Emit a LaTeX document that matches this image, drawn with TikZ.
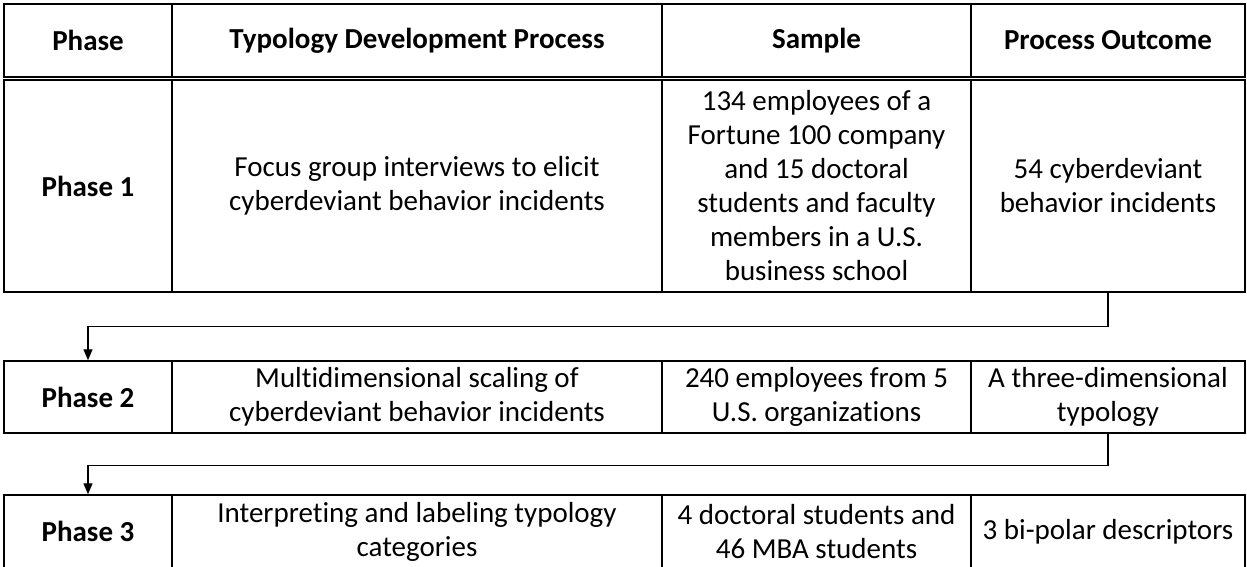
\documentclass[tikz,border=0pt]{standalone}
\usepackage{fontspec}
\setmainfont{Carlito}[Ligatures=NoCommon]
\usetikzlibrary{arrows.meta}

\begin{document}
\begin{tikzpicture}[x=1pt, y=-1pt,
    cell/.style={draw, line width=1.5pt, align=center, inner sep=0pt,
                 font=\fontsize{29}{34}\selectfont},
    head/.style={cell, font=\fontsize{29}{34}\selectfont\bfseries},
    colA/.style={minimum width=168pt},
    colB/.style={minimum width=490pt},
    colC/.style={minimum width=309pt},
    colD/.style={minimum width=274pt},
    flow/.style={line width=1.3pt, -{Triangle[length=11pt,width=9pt]}}]
  \useasboundingbox (0,0) rectangle (1247,566);

  % Header row
  \node[head, colA, minimum height=73pt] (hPhase) at (88,40.5) {Phase};
  \node[head, colB, minimum height=73pt] (hProc) at (417,40.5) {Typology Development Process};
  \node[head, colC, minimum height=73pt] (hSamp) at (816.5,40.5) {Sample};
  \node[head, colD, minimum height=73pt] (hOut) at (1108,40.5) {Process Outcome};

  % Phase 1
  \node[head, colA, minimum height=212pt] (phase1) at (88,186) {Phase 1};
  \node[cell, colB, minimum height=212pt] (proc1) at (417,186) {Focus group interviews to elicit\\cyberdeviant behavior incidents};
  \node[cell, colC, minimum height=212pt] (samp1) at (816.5,186) {134 employees of a\\Fortune 100 company\\and 15 doctoral\\students and faculty\\members in a U.S.\\business school};
  \node[cell, colD, minimum height=212pt] (out1) at (1108,186) {54 cyberdeviant\\behavior incidents};

  % Phase 2
  \node[head, colA, minimum height=72pt] (phase2) at (88,397) {Phase 2};
  \node[cell, colB, minimum height=72pt] (proc2) at (417,397) {Multidimensional scaling of\\cyberdeviant behavior incidents};
  \node[cell, colC, minimum height=72pt] (samp2) at (816.5,397) {240 employees from 5\\U.S. organizations};
  \node[cell, colD, minimum height=72pt] (out2) at (1108,397) {A three-dimensional\\typology};

  % Phase 3
  \node[head, colA, minimum height=73pt] (phase3) at (88,531.5) {Phase 3};
  \node[cell, colB, minimum height=73pt] (proc3) at (417,531.5) {Interpreting and labeling typology\\categories};
  \node[cell, colC, minimum height=73pt] (samp3) at (816.5,531.5) {4 doctoral students and\\46 MBA students};
  \node[cell, colD, minimum height=73pt] (out3) at (1108,531.5) {3 bi-polar descriptors};

  % Links between phases
  \draw[flow] (out1.south) -- ++(0,34) -| (phase2.north);
  \draw[flow] (out2.south) -- ++(0,32) -| (phase3.north);
\end{tikzpicture}
\end{document}
